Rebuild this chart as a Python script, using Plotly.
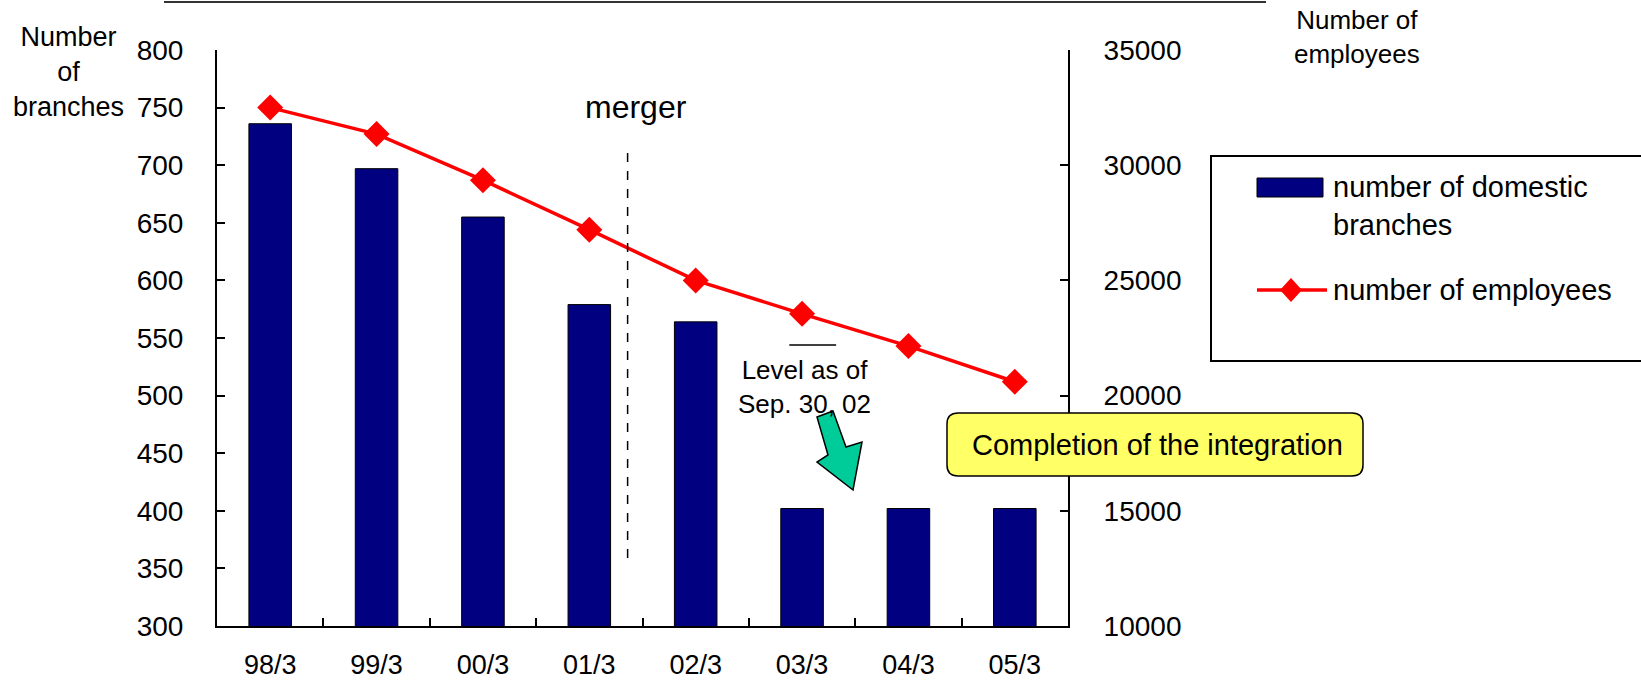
import plotly.graph_objects as go

# ---------------- data ----------------
categories = ["98/3", "99/3", "00/3", "01/3", "02/3", "03/3", "04/3", "05/3"]
branches = [736, 697, 655, 579, 564, 402, 402, 402]
employees = [32500, 31350, 29350, 27200, 25000, 23550, 22150, 20600]
branch_name = "number of domestic<br>branches"
employee_name = "number of employees"
left_title = "Number<br>of<br>branches"
right_title = "Number of<br>employees"
merger_label = "merger"
level_label = "Level as of<br>Sep. 30, 02"
box_label = "Completion of the integration"
y_left_ticks = list(range(300, 801, 50))
y_right_ticks = list(range(10000, 35001, 5000))

W, H = 1641, 684
L, R, T, B = 217, 1068, 50, 626  # plot area in page pixels


def px(x):
    return (x - L) / (R - L)


def py(y):
    return (B - y) / (B - T)


FONT = "Liberation Sans, Arial, sans-serif"

fig = go.Figure()
fig.add_trace(go.Bar(
    x=categories, y=branches, name=branch_name, width=0.4,
    marker=dict(color="#000080", line=dict(color="black", width=1)),
    yaxis="y",
))
fig.add_trace(go.Scatter(
    x=categories, y=employees, name=employee_name, mode="lines+markers",
    line=dict(color="#FF0000", width=3.5),
    marker=dict(symbol="diamond", size=20, color="#FF0000"),
    yaxis="y2",
))

axis_common = dict(
    showline=True, linecolor="black", linewidth=2, ticks="inside",
    ticklen=8, tickwidth=2, tickcolor="black", showgrid=False, zeroline=False,
    automargin=False,
)

fig.update_layout(
    width=W, height=H,
    margin=dict(l=L, r=W - R, t=T, b=H - B, pad=0, autoexpand=False),
    paper_bgcolor="white", plot_bgcolor="white",
    showlegend=False,
    font=dict(family=FONT, color="black"),
    xaxis=dict(
        type="category", range=[-0.5, 7.5], tickson="boundaries",
        tickfont=dict(size=27), ticklabelstandoff=14,
        **axis_common,
    ),
    yaxis=dict(
        range=[300, 800], tickvals=y_left_ticks,
        ticktext=[str(v) for v in y_left_ticks],
        tickfont=dict(size=28), ticklabelstandoff=26, **axis_common,
    ),
    yaxis2=dict(
        range=[10000, 35000], tickvals=y_right_ticks,
        ticktext=[str(v) for v in y_right_ticks], overlaying="y",
        side="right", tickfont=dict(size=28), ticklabelstandoff=28,
        **axis_common,
    ),
)

shapes = []
# top rule
shapes.append(dict(type="line", xref="paper", yref="paper",
                   x0=px(164), x1=px(1266), y0=py(2), y1=py(2),
                   line=dict(color="#333333", width=2)))
# merger dashed line
shapes.append(dict(type="line", xref="x", yref="y", x0=3.36, x1=3.36,
                   y0=359, y1=718, line=dict(color="black", width=1.5, dash="dash")))
# level short line
shapes.append(dict(type="line", xref="x", yref="y", x0=4.88, x1=5.32,
                   y0=544, y1=544, line=dict(color="black", width=1.5)))
# green arrow
arrow_pts = [(817, 417), (833, 411), (846, 447), (862, 442), (853, 490), (817, 462), (828, 455)]
path = "M " + " L ".join(f"{px(a):.5f},{py(b):.5f}" for a, b in arrow_pts) + " Z"
shapes.append(dict(type="path", xref="paper", yref="paper", path=path,
                   fillcolor="#00CC99", line=dict(color="black", width=1.5)))
# yellow rounded box
x0, x1, y0, y1, r = 947, 1363, 413, 476, 11
rb = (f"M {px(x0 + r)},{py(y0)} L {px(x1 - r)},{py(y0)} "
      f"Q {px(x1)},{py(y0)} {px(x1)},{py(y0 + r)} L {px(x1)},{py(y1 - r)} "
      f"Q {px(x1)},{py(y1)} {px(x1 - r)},{py(y1)} L {px(x0 + r)},{py(y1)} "
      f"Q {px(x0)},{py(y1)} {px(x0)},{py(y1 - r)} L {px(x0)},{py(y0 + r)} "
      f"Q {px(x0)},{py(y0)} {px(x0 + r)},{py(y0)} Z")
shapes.append(dict(type="path", xref="paper", yref="paper", path=rb,
                   fillcolor="#FFFF66", line=dict(color="black", width=1.5)))
# legend box (right edge runs off the page)
shapes.append(dict(type="rect", xref="paper", yref="paper",
                   x0=px(1211), x1=px(1720), y0=py(361), y1=py(156),
                   fillcolor="white", line=dict(color="black", width=2)))
# legend bar symbol
shapes.append(dict(type="rect", xref="paper", yref="paper",
                   x0=px(1257), x1=px(1323), y0=py(197), y1=py(178),
                   fillcolor="#000080", line=dict(color="black", width=1)))
# legend line symbol
shapes.append(dict(type="line", xref="paper", yref="paper",
                   x0=px(1257), x1=px(1327), y0=py(290), y1=py(290),
                   line=dict(color="#FF0000", width=3.5)))
dx, dy = 11, 12
dpath = (f"M {px(1291 - dx)},{py(290)} L {px(1291)},{py(290 - dy)} "
         f"L {px(1291 + dx)},{py(290)} L {px(1291)},{py(290 + dy)} Z")
shapes.append(dict(type="path", xref="paper", yref="paper", path=dpath,
                   fillcolor="#FF0000", line=dict(color="#FF0000", width=0)))
fig.update_layout(shapes=shapes)

ann = []


def text(x, y, s, size, xanchor="center", align="center"):
    ann.append(dict(xref="paper", yref="paper", x=px(x), y=py(y), text=s,
                    showarrow=False, xanchor=xanchor, yanchor="middle",
                    align=align,
                    font=dict(size=size, family=FONT, color="black")))


text(68, 72, left_title, 27)
text(1357, 37, right_title, 26)
text(636, 107, merger_label, 32)
text(804, 387, level_label, 26)
text(1157, 445, box_label, 29)
text(1331, 206, branch_name, 29, xanchor="left", align="left")
text(1331, 290, employee_name, 29, xanchor="left", align="left")
fig.update_layout(annotations=ann)

fig.write_html(
    "out.html",
    config={"displayModeBar": False},
    post_script="document.body.style.margin='0';document.body.style.overflow='hidden';",
)
